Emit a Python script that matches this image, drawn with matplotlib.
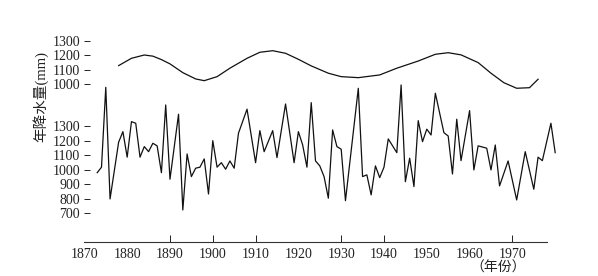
import matplotlib
matplotlib.use("Agg")
import matplotlib.pyplot as plt

# annual precipitation (mm)
years = [1873, 1874, 1875, 1876, 1878, 1879, 1880, 1881, 1882, 1883,
         1884, 1885, 1886, 1887, 1888, 1889, 1890, 1892, 1893, 1894,
         1895, 1896, 1897, 1898, 1899, 1900, 1901, 1902, 1903, 1904,
         1905, 1906, 1908, 1910, 1911, 1912, 1914, 1915, 1917, 1919,
         1920, 1921, 1922, 1923, 1924, 1925, 1926, 1927, 1928, 1929,
         1930, 1931, 1934, 1935, 1936, 1937, 1938, 1939, 1940, 1941,
         1943, 1944, 1945, 1946, 1947, 1948, 1949, 1950, 1951, 1952,
         1954, 1955, 1956, 1957, 1958, 1960, 1961, 1962, 1964, 1965,
         1966, 1967, 1969, 1971, 1973, 1975, 1976, 1977, 1979, 1980]
rain = [981, 1019, 1570, 800, 1191, 1264, 1088, 1333, 1322, 1088,
        1161, 1126, 1184, 1166, 981, 1448, 936, 1384, 724, 1110,
        954, 1012, 1019, 1076, 834, 1202, 1019, 1050, 1005, 1062,
        1012, 1253, 1419, 1050, 1271, 1126, 1271, 1085, 1455, 1050,
        1264, 1172, 1019, 1464, 1062, 1028, 954, 805, 1276, 1161,
        1143, 788, 1563, 954, 966, 828, 1028, 947, 1019, 1214,
        1119, 1586, 919, 1081, 885, 1340, 1195, 1281, 1241, 1529,
        1257, 1234, 972, 1350, 1064, 1409, 1000, 1166, 1150, 1000,
        1172, 890, 1062, 793, 1126, 867, 1088, 1064, 1322, 1119]

# smoothed curve (upper panel)
sm_years = [1878, 1881, 1884, 1886, 1888, 1890, 1893, 1896, 1898, 1901,
            1904, 1908, 1911, 1914, 1917, 1920, 1923, 1927, 1930, 1934,
            1939, 1943, 1948, 1952, 1955, 1958, 1962, 1965, 1968, 1971,
            1974, 1976]
sm_rain = [1128, 1179, 1202, 1194, 1170, 1140, 1079, 1035, 1023, 1051,
           1110, 1179, 1221, 1232, 1214, 1172, 1126, 1075, 1051, 1044,
           1063, 1110, 1160, 1207, 1218, 1203, 1149, 1075, 1009, 970,
           974, 1033]

low_ticks = [700, 800, 900, 1000, 1100, 1200, 1300]
top_ticks = [1000, 1100, 1200, 1300]
decades = [1870, 1880, 1890, 1900, 1910, 1920, 1930, 1940, 1950, 1960, 1970]
marked = [1890, 1900, 1910, 1930, 1940, 1970]

SERIF = ['Liberation Serif', 'Noto Sans CJK SC']
plt.rcParams['font.family'] = SERIF

fig = plt.figure(figsize=(5.98, 2.76), dpi=100)
rect = [0.1411, 0.1232, 0.8231, 0.8043]
ax = fig.add_axes(rect)
ax2 = fig.add_axes(rect)
ax2.patch.set_visible(False)

ax.plot(years, rain, color='#111111', lw=0.9)
ax2.plot(sm_years, sm_rain, color='#111111', lw=0.9)

ax.set_xlim(1870, 1985)
ax2.set_xlim(1870, 1985)
ax.set_ylim(503, 2034)
ax2.set_ylim(-102, 1446)

for a in (ax, ax2):
    for s in ('top', 'right', 'left'):
        a.spines[s].set_visible(False)
    a.tick_params(axis='y', direction='in', length=4, width=0.7,
                  pad=3, labelsize=10, colors='#222222')
ax2.spines['bottom'].set_visible(False)
ax2.set_xticks([])
ax2.set_yticks(top_ticks)
ax.set_yticks(low_ticks)

ax.spines['bottom'].set_bounds(1870, 1978)
ax.spines['bottom'].set_linewidth(0.8)
ax.spines['bottom'].set_color('#333333')
ax.set_xticks(decades)
ax.tick_params(axis='x', direction='in', length=5, width=0.7,
               pad=4, labelsize=10, colors='#222222')
for t, yr in zip(ax.xaxis.get_major_ticks(), decades):
    if yr not in marked:
        t.tick1line.set_visible(False)

fig.text(0.067, 0.649, '年降水量(mm)', rotation=90, ha='center', va='center',
         fontsize=10.5, color='#222222')
fig.text(0.833, 0.027, '（年份）', ha='center', va='center',
         fontsize=10, color='#222222')

fig.savefig('out.png', dpi=100)
